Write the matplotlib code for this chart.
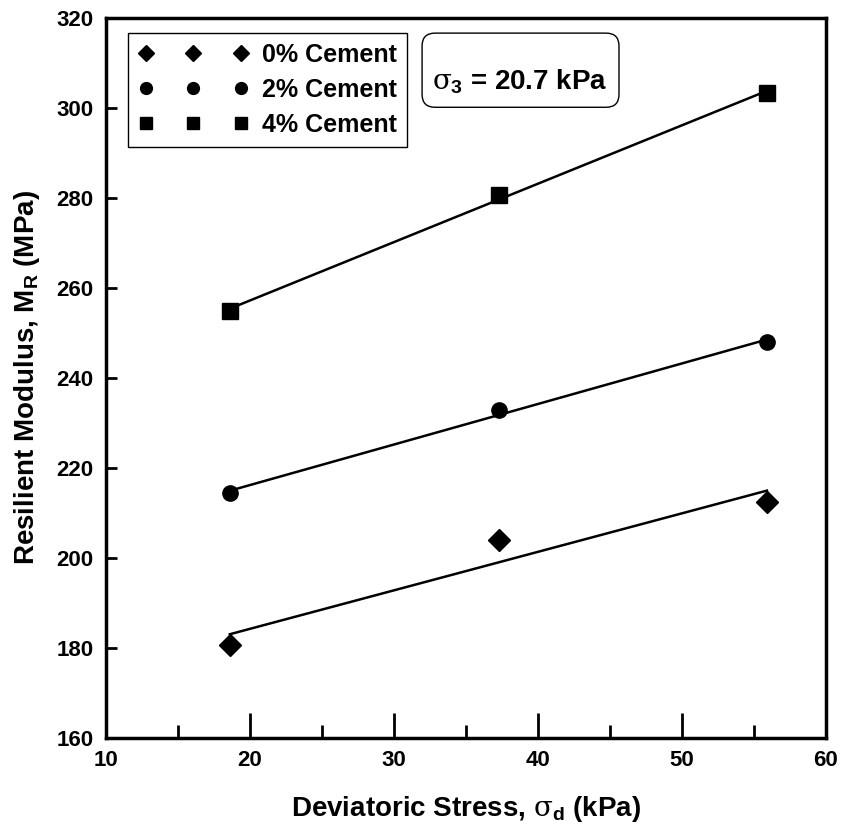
import numpy as np
import matplotlib
matplotlib.use("Agg")
import matplotlib.pyplot as plt
from matplotlib.lines import Line2D
from matplotlib.patches import FancyBboxPatch
from matplotlib.ticker import MultipleLocator

plt.rcParams['font.family'] = ['Liberation Sans', 'DejaVu Sans']
plt.rcParams['font.weight'] = 'bold'
plt.rcParams['mathtext.fontset'] = 'custom'
plt.rcParams['mathtext.rm'] = 'Liberation Sans:bold'
plt.rcParams['mathtext.it'] = 'DejaVu Serif:normal'
plt.rcParams['mathtext.bf'] = 'Liberation Sans:bold'

# Data
stress = [18.6, 37.3, 55.9]
mr_0 = [180.6, 204.0, 212.5]
mr_2 = [214.4, 232.9, 248.0]
mr_4 = [254.9, 280.7, 303.3]
labels = ['0% Cement', '2% Cement', '4% Cement']
markers = ['D', 'o', 's']
msizes = [11, 11, 11]
leg_msizes = [8.5, 8.5, 8]

fig = plt.figure(figsize=(8.45, 8.35), dpi=100)
ax = fig.add_axes([106/845, 1 - 738/835, (826-106)/845, (738-18)/835])

x = np.array(stress)
for ys, m, ms in zip([mr_0, mr_2, mr_4], markers, msizes):
    y = np.array(ys)
    ax.plot(x, y, linestyle='none', marker=m, markersize=ms, color='black', zorder=3)
    k, b = np.polyfit(x, y, 1)
    ax.plot(x[[0, -1]], k * x[[0, -1]] + b, color='black', lw=1.8, zorder=2)

ax.set_xlim(10, 60)
ax.set_ylim(160, 320)
ax.xaxis.set_major_locator(MultipleLocator(10))
ax.xaxis.set_minor_locator(MultipleLocator(5))
ax.yaxis.set_major_locator(MultipleLocator(20))
ax.tick_params(axis='x', which='major', direction='in', length=18, width=2, labelsize=16, pad=9)
ax.tick_params(axis='x', which='minor', direction='in', length=9.5, width=2)
ax.tick_params(axis='y', which='major', direction='in', length=8, width=2, labelsize=16, pad=9)
for s in ax.spines.values():
    s.set_linewidth(2.5)
for lab in ax.get_xticklabels() + ax.get_yticklabels():
    lab.set_fontweight('bold')

ax.set_xlabel(r'Deviatoric Stress, $\sigma_\mathregular{d}$ (kPa)', fontsize=20, fontweight='bold', labelpad=16)
ax.set_ylabel(r'Resilient Modulus, M$_\mathregular{R}$ (MPa)', fontsize=20, fontweight='bold', labelpad=10)

handles = [Line2D([], [], linestyle='none', marker=m, markersize=s, color='black')
           for m, s in zip(markers, leg_msizes)]
leg = ax.legend(handles, labels, numpoints=3, loc='upper left', bbox_to_anchor=(22/720, 1 - 15/720),
                borderaxespad=0, fancybox=False, edgecolor='black', framealpha=1, borderpad=0.4,
                handlelength=4.4, handletextpad=0.58, labelspacing=0.44,
                prop={'size': 18, 'weight': 'bold'})
leg.get_frame().set_linewidth(1.0)

box = FancyBboxPatch((0.439, 0.876), 0.2735, 0.103, transform=ax.transAxes,
                     boxstyle='round,pad=0,rounding_size=0.018', facecolor='white',
                     edgecolor='black', lw=1.0, zorder=4)
ax.add_patch(box)
ax.text(0.575, 0.9, r'$\sigma_\mathregular{3}$ = 20.7 kPa', transform=ax.transAxes, ha='center',
        va='baseline', fontsize=20, fontweight='bold', zorder=5)

fig.savefig('out.png', dpi=100)
